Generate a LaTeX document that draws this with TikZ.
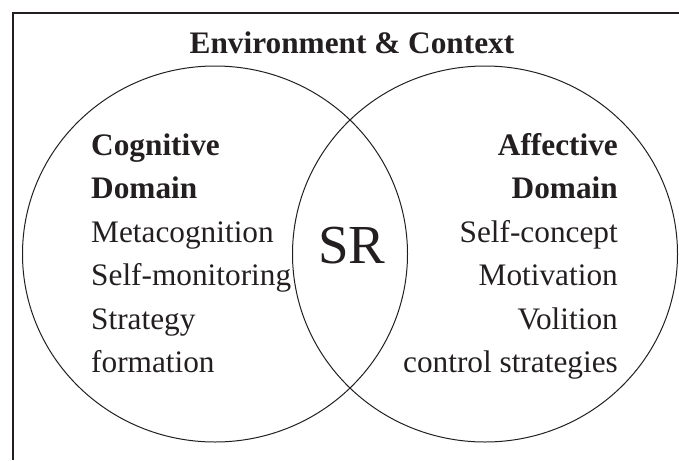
\documentclass[tikz,border=0pt]{standalone}
\usepackage{fontspec}
\setmainfont{Liberation Serif}
\definecolor{ink}{HTML}{231F20}
\begin{document}
\begin{tikzpicture}[x=1pt,y=-1pt,
  frameline/.style={draw=ink,line width=2pt},
  vennring/.style={draw=ink,line width=1pt},
  body/.style={inner sep=0pt,text=ink,font=\fontsize{31.3}{36}\selectfont},
  head/.style={body,font=\fontsize{31.3}{36}\selectfont\bfseries}]
\useasboundingbox (0,0) rectangle (679,460);
\draw[frameline] (679,13) -- (13,13) -- (13,460);
\draw[vennring] (215,254) ellipse [x radius=192.5, y radius=188];
\draw[vennring] (485,254) ellipse [x radius=192.5, y radius=188];
\node[head,anchor=base] (title) at (352,53) {Environment \& Context};
% left column
\node[head,anchor=base west] (l1) at (91,155) {Cognitive};
\node[head,anchor=base west] (l2) at (91,198.5) {Domain};
\node[body,anchor=base west] (l3) at (91,242) {Metacognition};
\node[body,anchor=base west] (l4) at (91,285.5) {Self-monitoring};
\node[body,anchor=base west] (l5) at (91,329) {Strategy};
\node[body,anchor=base west] (l6) at (91,372.5) {formation};
% right column
\node[head,anchor=base east] (r1) at (618,155) {Affective};
\node[head,anchor=base east] (r2) at (618,198.5) {Domain};
\node[body,anchor=base east] (r3) at (618,242) {Self-concept};
\node[body,anchor=base east] (r4) at (618,285.5) {Motivation};
\node[body,anchor=base east] (r5) at (618,329) {Volition};
\node[body,anchor=base east] (r6) at (618,372.5) {control strategies};
% centre
\node[body,anchor=base,font=\fontsize{55}{60}\selectfont] (sr) at (352,263) {SR};
\end{tikzpicture}
\end{document}
